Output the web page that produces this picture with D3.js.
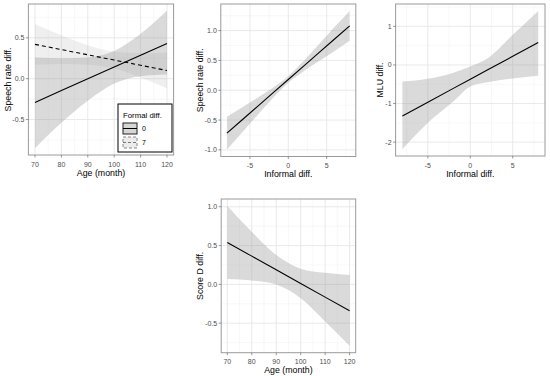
<!DOCTYPE html>
<html>
<head>
<meta charset="utf-8">
<script src="https://cdn.jsdelivr.net/npm/d3@7"></script>
<style>
  body { margin: 0; background: #fff; }
  svg { display: block; font-family: "Liberation Sans", Arial, sans-serif; }
  .tick-label { fill: #4d4d4d; font-size: 7px; }
  .axis-title { fill: #000; font-size: 8.8px; }
</style>
</head>
<body>
<svg id="chart" width="550" height="376"></svg>
<script>
// x values of the fitted curves
var ageX = [70, 80, 90, 100, 110, 120];
var informalX = [-8, -6, -4, -2, 0, 2, 4, 6, 8];
var mluX = [-8, -5, -2, 0, 2, 5, 8];

// Panel 1: speech rate diff. by age, two levels of formal diff.
var rate0Fit = [-0.29, -0.146, -0.002, 0.142, 0.286, 0.43];
var rate0Lo  = [-0.85, -0.54, -0.27, -0.06, 0.03, 0.05];
var rate0Hi  = [0.26, 0.25, 0.26, 0.34, 0.55, 0.83];
var rate7Fit = [0.42, 0.356, 0.292, 0.228, 0.164, 0.10];
var rate7Lo  = [0.17, 0.18, 0.172, 0.125, 0.016, -0.12];
var rate7Hi  = [0.67, 0.532, 0.41, 0.331, 0.313, 0.32];
var formalLabels = ["0", "7"];

// Panel 2: speech rate diff. by informal diff.
var srFit = [-0.72, -0.495, -0.27, -0.045, 0.18, 0.405, 0.63, 0.855, 1.08];
var srLo  = [-0.995, -0.704, -0.415, -0.132, 0.125, 0.318, 0.49, 0.655, 0.83];
var srHi  = [-0.445, -0.286, -0.125, 0.042, 0.235, 0.492, 0.77, 1.055, 1.33];

// Panel 3: MLU diff. by informal diff.
var mluFit = [-1.32, -0.964, -0.607, -0.37, -0.132, 0.224, 0.58];
var mluLo  = [-2.18, -1.5, -0.95, -0.56, -0.45, -0.35, -0.28];
var mluHi  = [-0.43, -0.36, -0.2, -0.04, 0.17, 0.78, 1.40];

// Panel 4: score D diff. by age
var sdFit = [0.54, 0.364, 0.188, 0.012, -0.164, -0.34];
var sdLo  = [0.07, 0.051, -0.002, -0.178, -0.477, -0.79];
var sdHi  = [1.01, 0.677, 0.378, 0.202, 0.149, 0.12];

// tick breaks
var ageTicks = [70, 80, 90, 100, 110, 120];
var informalTicks = [-5, 0, 5];
var rateTicks1 = [-0.5, 0, 0.5];
var rateTicks2 = [-1, -0.5, 0, 0.5, 1];
var mluTicks = [-2, -1, 0, 1];
var scoreTicks = [-0.5, 0, 0.5, 1];

var svg = d3.select("#chart");

function zip(xs, fit, lo, hi) {
  return xs.map(function(x, i) { return {x: x, fit: fit[i], lo: lo[i], hi: hi[i]}; });
}

function padded(ext) {
  var p = (ext[1] - ext[0]) * 0.05;
  return [ext[0] - p, ext[1] + p];
}

function minorBreaks(major, dom) {
  var step = major[1] - major[0], out = [];
  for (var i = -1; i < major.length; i++) {
    var v = major[0] + step * (i + 0.5);
    if (v >= dom[0] && v <= dom[1]) out.push(v);
  }
  return out;
}

function panel(o) {
  var allY = [];
  o.series.forEach(function(s) { s.data.forEach(function(d) { allY.push(d.lo, d.hi); }); });
  var xDom = padded(d3.extent(o.series[0].data, function(d) { return d.x; }));
  var yDom = padded(d3.extent(allY));

  var x = d3.scaleLinear().domain(xDom).range([o.left, o.right]);
  var y = d3.scaleLinear().domain(yDom).range([o.bottom, o.top]);

  var g = svg.append("g");

  // grid
  g.selectAll(".gxm").data(minorBreaks(o.xTicks, xDom)).enter().append("line")
      .attr("x1", x).attr("x2", x).attr("y1", o.top).attr("y2", o.bottom)
      .attr("stroke", "#f3f3f3").attr("stroke-width", 0.6);
  g.selectAll(".gym").data(minorBreaks(o.yTicks, yDom)).enter().append("line")
      .attr("y1", y).attr("y2", y).attr("x1", o.left).attr("x2", o.right)
      .attr("stroke", "#f3f3f3").attr("stroke-width", 0.6);
  g.selectAll(".gx").data(o.xTicks).enter().append("line")
      .attr("x1", x).attr("x2", x).attr("y1", o.top).attr("y2", o.bottom)
      .attr("stroke", "#e6e6e6").attr("stroke-width", 0.9);
  g.selectAll(".gy").data(o.yTicks).enter().append("line")
      .attr("y1", y).attr("y2", y).attr("x1", o.left).attr("x2", o.right)
      .attr("stroke", "#e6e6e6").attr("stroke-width", 0.9);

  var area = d3.area()
      .x(function(d) { return x(d.x); })
      .y0(function(d) { return y(d.lo); })
      .y1(function(d) { return y(d.hi); })
      .curve(d3.curveMonotoneX);
  var line = d3.line()
      .x(function(d) { return x(d.x); })
      .y(function(d) { return y(d.fit); });

  o.series.forEach(function(s) {
    g.append("path").attr("d", area(s.data))
        .attr("fill", "#999").attr("fill-opacity", s.alpha);
  });
  o.series.forEach(function(s) {
    g.append("path").attr("d", line(s.data))
        .attr("fill", "none").attr("stroke", "#000").attr("stroke-width", 1.1)
        .attr("stroke-dasharray", s.dash || null);
  });

  // border
  g.append("rect")
      .attr("x", o.left).attr("y", o.top)
      .attr("width", o.right - o.left).attr("height", o.bottom - o.top)
      .attr("fill", "none").attr("stroke", "#9a9a9a").attr("stroke-width", 1);

  // ticks
  g.selectAll(".tx").data(o.xTicks).enter().append("line")
      .attr("x1", x).attr("x2", x).attr("y1", o.bottom).attr("y2", o.bottom + 2.5)
      .attr("stroke", "#555").attr("stroke-width", 0.6);
  g.selectAll(".ty").data(o.yTicks).enter().append("line")
      .attr("y1", y).attr("y2", y).attr("x1", o.left - 2.5).attr("x2", o.left)
      .attr("stroke", "#555").attr("stroke-width", 0.6);

  g.selectAll(".lx").data(o.xTicks).enter().append("text")
      .attr("class", "tick-label")
      .attr("x", x).attr("y", o.bottom + 11.5)
      .attr("text-anchor", "middle")
      .text(function(d) { return o.xFmt(d); });
  g.selectAll(".ly").data(o.yTicks).enter().append("text")
      .attr("class", "tick-label")
      .attr("x", o.left - 4).attr("y", y).attr("dy", "0.35em")
      .attr("text-anchor", "end")
      .text(function(d) { return o.yFmt(d); });

  g.append("text").attr("class", "axis-title")
      .attr("x", (o.left + o.right) / 2).attr("y", o.bottom + 20.5)
      .attr("text-anchor", "middle").text(o.xTitle);
  g.append("text").attr("class", "axis-title")
      .attr("transform", "translate(" + o.yTitleX + "," + (o.top + o.bottom) / 2 + ")rotate(-90)")
      .attr("dy", "0.35em")
      .attr("text-anchor", "middle").text(o.yTitle);

  return g;
}

var f1 = d3.format(".1f"), f0 = d3.format("d");
function fmt1(d) { return f1(d).replace("\u2212", "-"); }
function fmt0(d) { return f0(d).replace("\u2212", "-"); }

var p1 = panel({
  left: 28.4, right: 173.6, top: 4, bottom: 155,
  series: [
    {data: zip(ageX, rate7Fit, rate7Lo, rate7Hi), alpha: 0.16, dash: "4,3"},
    {data: zip(ageX, rate0Fit, rate0Lo, rate0Hi), alpha: 0.36}
  ],
  xTicks: ageTicks, yTicks: rateTicks1, xFmt: fmt0, yFmt: fmt1,
  xTitle: "Age (month)", yTitle: "Speech rate diff.", yTitleX: 8
});

panel({
  left: 220.8, right: 355.8, top: 4, bottom: 156.5,
  series: [{data: zip(informalX, srFit, srLo, srHi), alpha: 0.36}],
  xTicks: informalTicks, yTicks: rateTicks2, xFmt: fmt0, yFmt: fmt1,
  xTitle: "Informal diff.", yTitle: "Speech rate diff.", yTitleX: 200
});

panel({
  left: 395.6, right: 545, top: 4, bottom: 156,
  series: [{data: zip(mluX, mluFit, mluLo, mluHi), alpha: 0.36}],
  xTicks: informalTicks, yTicks: mluTicks, xFmt: fmt0, yFmt: fmt0,
  xTitle: "Informal diff.", yTitle: "MLU diff.", yTitleX: 380
});

panel({
  left: 221.2, right: 355.7, top: 199, bottom: 352.7,
  series: [{data: zip(ageX, sdFit, sdLo, sdHi), alpha: 0.36}],
  xTicks: ageTicks, yTicks: scoreTicks, xFmt: fmt0, yFmt: fmt1,
  xTitle: "Age (month)", yTitle: "Score D diff.", yTitleX: 200
});

// legend for panel 1
var leg = p1.append("g").attr("transform", "translate(118,104)");
leg.append("rect").attr("width", 54).attr("height", 48)
    .attr("fill", "#fff").attr("stroke", "#000").attr("stroke-width", 1);
leg.append("text").attr("x", 5).attr("y", 14)
    .attr("font-size", "7.8px").attr("fill", "#000").text("Formal diff.");
var keys = leg.selectAll(".key").data(formalLabels).enter().append("g")
    .attr("transform", function(d, i) { return "translate(5," + (19 + i * 14) + ")"; });
keys.append("rect").attr("width", 14).attr("height", 11)
    .attr("fill", function(d, i) { return i ? "#ececec" : "#d6d6d6"; })
    .attr("stroke", function(d, i) { return i ? "#888" : "#222"; })
    .attr("stroke-width", 1)
    .attr("stroke-dasharray", function(d, i) { return i ? "3,2" : null; });
keys.append("line").attr("x1", 0).attr("x2", 14).attr("y1", 5.5).attr("y2", 5.5)
    .attr("stroke", function(d, i) { return i ? "#777" : "#000"; })
    .attr("stroke-width", 1)
    .attr("stroke-dasharray", function(d, i) { return i ? "3,2" : null; });
keys.append("text").attr("x", 19).attr("y", 5.5).attr("dy", "0.35em")
    .attr("font-size", "7px").attr("fill", "#000").text(function(d) { return d; });
</script>
</body>
</html>
